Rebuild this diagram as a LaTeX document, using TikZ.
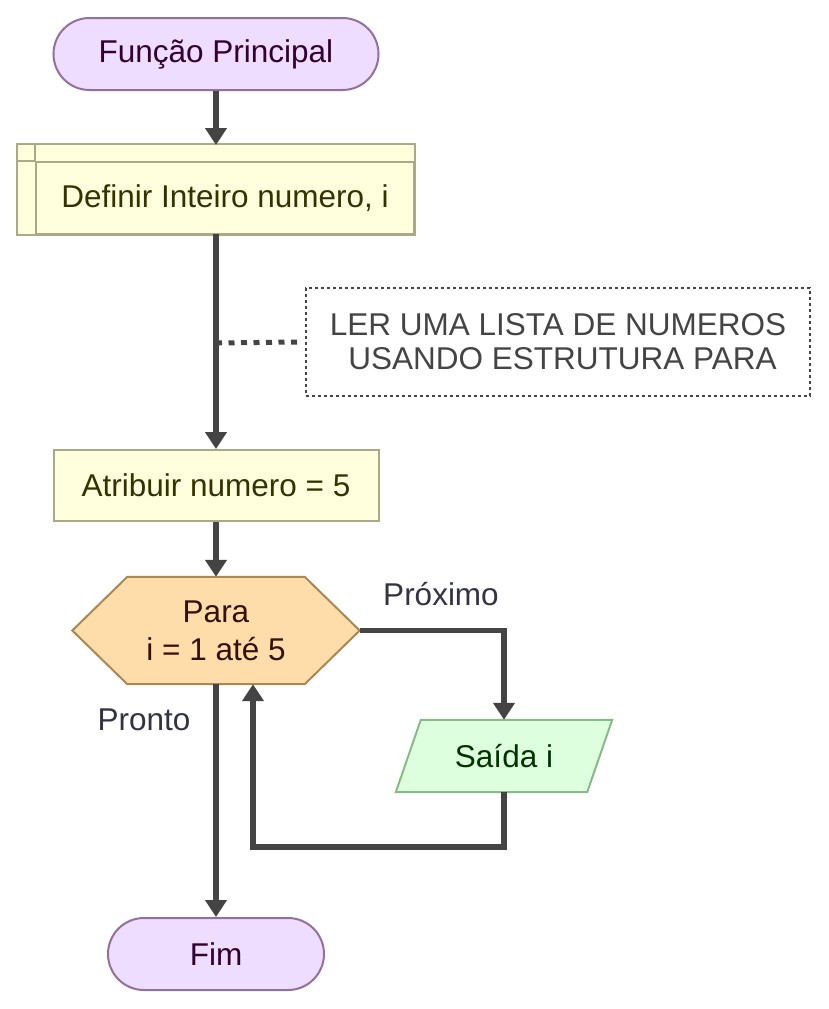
\documentclass[tikz,border=0pt]{standalone}
\usepackage{fontspec}
\setmainfont{Liberation Sans}
\usetikzlibrary{calc}
\usetikzlibrary{arrows.meta}
\usetikzlibrary{backgrounds}
\definecolor{termbg}{HTML}{EEDDFF}
\definecolor{termline}{HTML}{9370A0}
\definecolor{termtext}{HTML}{330033}
\definecolor{procbg}{HTML}{FFFFDD}
\definecolor{procline}{HTML}{AAAA88}
\definecolor{proctext}{HTML}{333300}
\definecolor{loopbg}{HTML}{FFDDAA}
\definecolor{loopline}{HTML}{AA8855}
\definecolor{looptext}{HTML}{331100}
\definecolor{outbg}{HTML}{DDFFDD}
\definecolor{outline}{HTML}{88BB88}
\definecolor{outtext}{HTML}{003300}
\definecolor{flowline}{HTML}{444444}
\definecolor{labeltext}{HTML}{333344}

\begin{document}
\begin{tikzpicture}[x=1pt,y=-1pt,
font=\fontsize{31.5}{38}\selectfont,
every node/.style={inner sep=0pt, align=center},
flow/.style = {draw=flowline, line width=5.5pt, -{Triangle[width=21pt,length=17pt]}},
terminal/.style = {draw=termline, fill=termbg, text=termtext, line width=2pt,
  rounded corners=36pt, minimum height=72pt},
process/.style = {draw=procline, fill=procbg, text=proctext, line width=2pt},
loopbox/.style = {draw=loopline, fill=loopbg, line width=2pt},
outbox/.style = {draw=outline, fill=outbg, line width=2pt},
note/.style = {draw=flowline, line width=2pt, dash pattern=on 3pt off 3pt,
  text=flowline, minimum width=504pt, minimum height=108pt,
  font=\fontsize{31.5}{34}\selectfont},
noteline/.style = {draw=flowline, line width=5pt, dash pattern=on 6pt off 6.5pt},
edgelabel/.style = {text=labeltext}
]
\useasboundingbox (0,0) rectangle (829,1009);

\node [terminal, minimum width=325pt] (start) at (216,54) {Função Principal};
\node [process, minimum width=378pt, minimum height=72pt] (defn) at (225,198) {Definir Inteiro numero, i};
\coordinate (defntop) at (216,145);
\coordinate (defnbot) at (216,234);
\node [note] (comment) at (558,342) {LER UMA LISTA DE NUMEROS\\ \hspace*{9pt}USANDO ESTRUTURA PARA};
\coordinate (notepin) at (216,343);
\node [process, minimum width=325pt, minimum height=71pt] (assign) at (216,485.5) {Atribuir numero = 5};
\node [text=looptext, minimum width=287pt, minimum height=107pt] (loop) at (216,630.5) {Para\\i = 1 até 5};
\node [text=outtext, minimum width=216pt, minimum height=72pt] (out) at (504,756) {Saída i};
\node [terminal, minimum width=216pt] (finish) at (216,954) {Fim};

\begin{scope}[on background layer]
% subroutine frame
\draw [process] ($ (defn.north west) + (-18,-17) $) rectangle (defn.south east);
\draw [process] ($ (defn.north west) + (-18,0) $) -- (defn.north west)
  -- ($ (defn.north west) + (0,-17) $);
% hexagon
\draw [loopbox] (loop.west)
  -- ($ (loop.north west) + (55,0) $)
  -- ($ (loop.north east) + (-55,0) $)
  -- (loop.east)
  -- ($ (loop.south east) + (-55,0) $)
  -- ($ (loop.south west) + (55,0) $)
  -- cycle;
% parallelogram
\draw [outbox] (out.south west)
  -- ($ (out.north west) + (25,0) $)
  -- (out.north east)
  -- ($ (out.south east) + (-25,0) $)
  -- cycle;
\end{scope}

\draw [flow] (start.south) -- (defntop);
\draw [flow] (defnbot) -- (assign.north);
\draw [noteline] (notepin) -- ($ (comment.west) + (-8,0) $);
\draw [flow] (assign.south) -- (loop.north);
\draw [flow] (loop.east) -| (out.north);
\draw [flow] (out.south) -- ++(0,55) -| ($ (loop.south) + (37,0) $);
\draw [flow] (loop.south) -- (finish.north);

\node [edgelabel] (next) at (441,594) {Próximo};
\node [edgelabel] (done) at (144,720) {Pronto};

\end{tikzpicture}
\end{document}
